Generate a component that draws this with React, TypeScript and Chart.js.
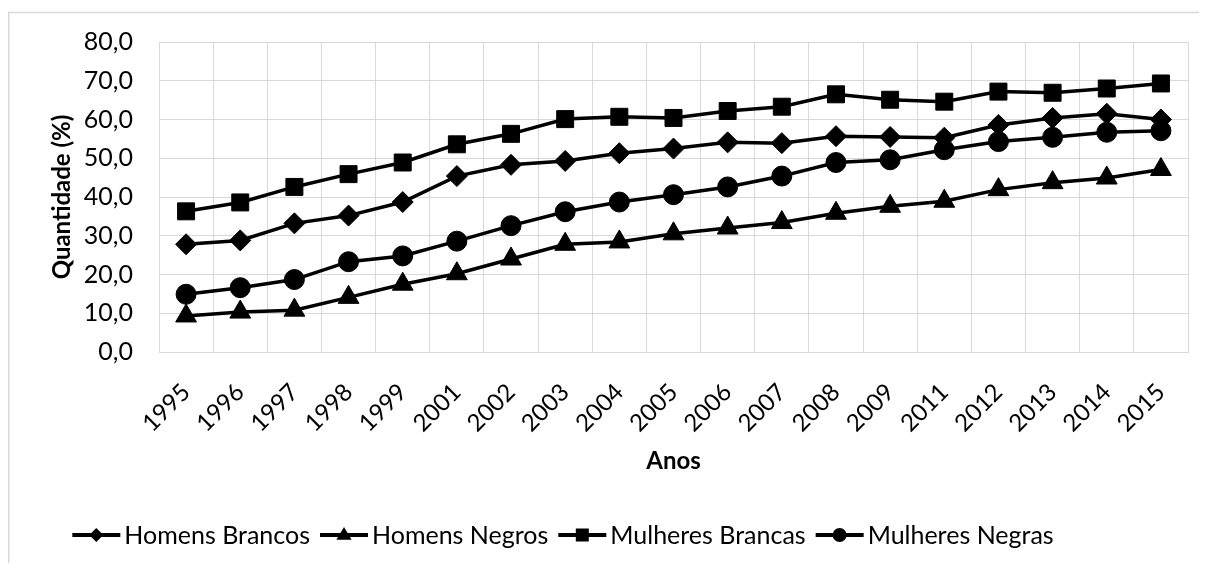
import React, { useEffect, useRef } from "react";
import { Chart, registerables } from "chart.js";

Chart.register(...registerables);

const categories = ["1995", "1996", "1997", "1998", "1999", "2001", "2002", "2003", "2004", "2005", "2006", "2007", "2008", "2009", "2011", "2012", "2013", "2014", "2015"];
const homensBrancos = [27.8, 28.8, 33.2, 35.2, 38.7, 45.4, 48.3, 49.3, 51.3, 52.5, 54.1, 53.9, 55.7, 55.5, 55.3, 58.6, 60.4, 61.5, 60.0];
const homensNegros = [9.3, 10.3, 10.8, 14.1, 17.5, 20.2, 24.0, 27.8, 28.4, 30.5, 32.0, 33.4, 35.8, 37.6, 38.9, 41.9, 43.7, 44.9, 47.1];
const mulheresBrancas = [36.3, 38.6, 42.6, 45.9, 48.9, 53.6, 56.3, 60.1, 60.7, 60.4, 62.2, 63.3, 66.5, 65.1, 64.6, 67.2, 66.9, 68.0, 69.3];
const mulheresNegras = [14.9, 16.6, 18.7, 23.3, 24.8, 28.6, 32.6, 36.2, 38.7, 40.6, 42.6, 45.4, 48.9, 49.6, 52.2, 54.3, 55.4, 56.7, 57.1];
const seriesLabels = ["Homens Brancos", "Homens Negros", "Mulheres Brancas", "Mulheres Negras"];
const yTicks = [0, 10, 20, 30, 40, 50, 60, 70, 80];

const FONT = "Lato, 'Noto Sans', sans-serif";
const W = 1199;
const H = 555;
const GRID = "#d9d9d9";

function drawMarker(ctx: CanvasRenderingContext2D, style: string, x: number, y: number, s: number) {
  ctx.beginPath();
  if (style === "rectRot") {
    ctx.moveTo(x, y - s);
    ctx.lineTo(x + s, y);
    ctx.lineTo(x, y + s);
    ctx.lineTo(x - s, y);
    ctx.closePath();
  } else if (style === "triangle") {
    ctx.moveTo(x, y - s);
    ctx.lineTo(x + s * 0.95, y + s * 0.6);
    ctx.lineTo(x - s * 0.95, y + s * 0.6);
    ctx.closePath();
  } else if (style === "rect") {
    ctx.rect(x - s, y - s, 2 * s, 2 * s);
  } else {
    ctx.arc(x, y, s, 0, Math.PI * 2);
  }
  ctx.fill();
}

const frameAndLegend = {
  id: "frameAndLegend",
  beforeDraw(chart: any) {
    const ctx = chart.ctx as CanvasRenderingContext2D;
    ctx.save();
    ctx.strokeStyle = GRID;
    ctx.lineWidth = 1.5;
    ctx.beginPath();
    ctx.moveTo(0.75, H);
    ctx.lineTo(0.75, 4.5);
    ctx.lineTo(W, 4.5);
    ctx.stroke();
    ctx.restore();
  },
  afterDraw(chart: any) {
    const ctx = chart.ctx as CanvasRenderingContext2D;
    ctx.save();
    ctx.font = `25px ${FONT}`;
    const sizes: Record<string, number> = { rectRot: 7, triangle: 8, rect: 6.5, circle: 7 };
    const items = chart.data.datasets.map((ds: any) => ({
      label: ds.label as string,
      style: ds.pointStyle as string,
      w: ctx.measureText(ds.label).width,
    }));
    const lineLen = 48;
    const gapText = 4;
    const gapItem = 10;
    const total = items.reduce((s: number, it: any) => s + lineLen + gapText + it.w, 0) + gapItem * (items.length - 1);
    let x = 555 - total / 2;
    const y = 527;
    ctx.fillStyle = "#000";
    ctx.strokeStyle = "#000";
    ctx.textBaseline = "middle";
    ctx.textAlign = "left";
    for (const it of items) {
      ctx.lineWidth = 4;
      ctx.beginPath();
      ctx.moveTo(x, y);
      ctx.lineTo(x + lineLen, y);
      ctx.stroke();
      drawMarker(ctx, it.style, x + lineLen / 2, y, sizes[it.style]);
      ctx.fillText(it.label, x + lineLen + gapText, y + 1);
      x += lineLen + gapText + it.w + gapItem;
    }
    ctx.restore();
  },
};

export default function App() {
  const ref = useRef<HTMLCanvasElement | null>(null);
  useEffect(() => {
    if (!ref.current) return;
    Chart.defaults.color = "#000";
    const mk = (label: string, data: number[], style: string, radius: number) => ({
      label,
      data,
      borderColor: "#000",
      backgroundColor: "#000",
      borderWidth: 3.5,
      pointStyle: style,
      pointRadius: radius,
      pointBackgroundColor: "#000",
      pointBorderColor: "#000",
      pointBorderWidth: 1,
      tension: 0,
    });
    const chart = new Chart(ref.current, {
      type: "line",
      data: {
        labels: categories,
        datasets: [
          mk(seriesLabels[0], homensBrancos, "rectRot", 10.5),
          mk(seriesLabels[1], homensNegros, "triangle", 12),
          mk(seriesLabels[2], mulheresBrancas, "rect", 12),
          mk(seriesLabels[3], mulheresNegras, "circle", 10),
        ],
      },
      options: {
        responsive: false,
        animation: false,
        events: [],
        layout: { padding: { left: 0, top: 34, right: 19, bottom: 81 } },
        plugins: {
          legend: { display: false },
          tooltip: { enabled: false },
        },
        scales: {
          x: {
            type: "category",
            offset: true,
            grid: { offset: true, color: GRID, lineWidth: 1, drawTicks: false },
            border: { color: GRID },
            ticks: {
              minRotation: 45,
              maxRotation: 45,
              autoSkip: false,
              padding: 26,
              font: { family: FONT, size: 24 },
              color: "#000",
            },
            title: {
              display: true,
              text: "Anos",
              font: { family: FONT, size: 24, weight: "bold" },
              color: "#000",
              padding: { top: 0, bottom: 6 },
            },
            afterFit: (scale: any) => {
              scale.height = 130;
              scale.paddingLeft = 0;
              scale.paddingRight = 0;
            },
          },
          y: {
            min: 0,
            max: 80,
            afterBuildTicks: (scale: any) => {
              scale.ticks = yTicks.map((v) => ({ value: v }));
            },
            grid: { color: GRID, lineWidth: 1, drawTicks: false },
            border: { color: GRID },
            ticks: {
              padding: 26,
              font: { family: FONT, size: 25 },
              color: "#000",
              callback: (v: any) => Number(v).toFixed(1).replace(".", ","),
            },
            title: {
              display: true,
              text: "Quantidade (%)",
              font: { family: FONT, size: 24, weight: "bold" },
              color: "#000",
              padding: { top: 40, bottom: 0 },
            },
            afterFit: (scale: any) => {
              scale.width = 151;
              scale.paddingTop = 0;
              scale.paddingBottom = 0;
            },
          },
        },
      } as any,
      plugins: [frameAndLegend],
    });
    return () => chart.destroy();
  }, []);
  return (
    <div>
      <canvas ref={ref} width={W} height={H} style={{ display: "block", width: W, height: H }} />
    </div>
  );
}
